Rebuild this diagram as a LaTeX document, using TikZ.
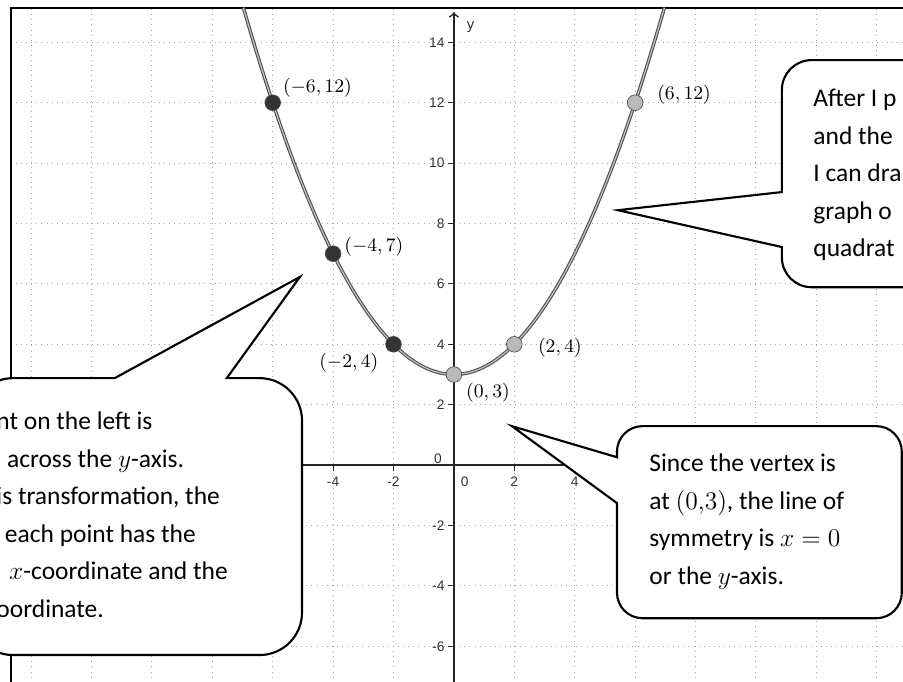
\documentclass[tikz,border=0pt]{standalone}
\usepackage{fontspec}
\newfontfamily\notefont{Carlito}
\newfontfamily\tickfont{Liberation Sans}
\begin{document}
\begin{tikzpicture}[x=0.5cm,y=0.5cm,
  gridline/.style={gray!70,dotted,line width=0.4pt},
  axisline/.style={black!85,line width=0.8pt},
  ticklab/.style={font=\tickfont\fontsize{6.5}{7}\selectfont,text=black!80,inner sep=0pt},
  ptlab/.style={font=\fontsize{9}{10}\selectfont,inner sep=0pt},
  dot/.style={circle,draw=black!70,line width=0.3pt,minimum size=2.6mm,inner sep=0pt},
  bubble/.style={draw=black,fill=white,line width=1pt},
  note/.style={font=\notefont\fontsize{12}{17.7}\selectfont,align=left,inner sep=0pt,anchor=west}]
  \useasboundingbox (-15.03,-7.15) rectangle (14.87,15.40);
  \clip (-15.03,-7.15) rectangle (14.87,15.40);
  % grid and frame
  \draw[gridline] (-14.67,-7.2) grid[step=2] (14.9,15.13);
  \draw[line width=1.1pt] (-14.67,-7.2) -- (-14.67,15.13) -- (14.9,15.13);
  % axes
  \draw[axisline] (-14.67,0) -- (14.9,0);
  \draw[axisline,->,>=to] (0,-7.2) -- (0,15.0);
  \node[ticklab,font=\tickfont\fontsize{7}{8}\selectfont] (ylabel) at (0.55,14.5) {y};
  \foreach \v in {-6,-4,-2,2,4,6,8,10,12,14} {
    \draw[axisline,line width=0.5pt] (-0.2,\v) -- (0,\v);
    \node[ticklab,anchor=east] (ytick\v) at (-0.3,\v) {\v};
  }
  \node[ticklab] (ytick0) at (-0.53,0.22) {0};
  \foreach \v in {-4,-2,2,4} {
    \draw[axisline,line width=0.5pt] (\v,0) -- (\v,-0.2);
    \node[ticklab] (xtick\v) at (\v,-0.56) {\v};
  }
  \node[ticklab] (xtick0) at (0.36,-0.56) {0};
  % the parabola y = x^2/4 + 3
  \draw[draw=black!70,double=gray!50,double distance=0.6pt,line width=0.5pt]
    plot[domain=-6.97:6.97,samples=80,smooth] (\x,{\x*\x/4+3});
  \foreach \px/\py/\nm/\shade in {-6/12/pa/black!80,-4/7/pb/black!80,-2/4/pc/black!80,0/3/pd/gray!55,2/4/pe/gray!55,6/12/pf/gray!55}
    \node[dot,fill=\shade] (\nm) at (\px,\py) {};
  \node[ptlab] (la) at (-4.52,12.48) {$(-6,12)$};
  \node[ptlab] (lb) at (-2.65,7.22) {$(-4,7)$};
  \node[ptlab] (lc) at (-3.48,3.38) {$(-2,4)$};
  \node[ptlab] (ld) at (1.13,2.38) {$(0,3)$};
  \node[ptlab] (le) at (3.51,3.87) {$(2,4)$};
  \node[ptlab] (lf) at (7.62,12.25) {$(6,12)$};
  % callouts
  \draw[bubble] (10.86,9.04) [rounded corners=14pt] -- (10.86,13.41) -- (16,13.41) -- (16,5.89)
    -- (10.86,5.89) [sharp corners] -- (10.86,7.22) -- (5.43,8.44) -- cycle;
  \node[note] (plotnote) at (11.89,9.6) {After I p\\and the\\I can dra\\graph o\\quadrat};
  \draw[bubble] (-7.52,2.88) [rounded corners=20pt] -- (-5.03,2.88) -- (-5.03,-6.29) -- (-16,-6.29)
    -- (-16,2.88) [sharp corners] -- (-11.23,2.88) -- (-5.10,6.23) -- cycle;
  \node[note] (reflectnote) at (-15.16,-1.64) {nt on the left is\\\hspace*{5pt}across the $y$-axis.\\is transformation, the\\\hspace*{4pt}each point has the\\\hspace*{6pt}$x$-coordinate and the\\oordinate.};
  \draw[bubble] (5.40,0.26) [rounded corners=12pt] -- (5.40,1.29) -- (14.83,1.29) -- (14.83,-5.07)
    -- (5.40,-5.07) [sharp corners] -- (5.40,-1.26) -- (1.92,1.29) -- cycle;
  \node[note] (vertexnote) at (6.46,-1.87) {Since the vertex is\\at $(0{,}3)$, the line of\\symmetry is $x=0$\\or the $y$-axis.};
\end{tikzpicture}
\end{document}
